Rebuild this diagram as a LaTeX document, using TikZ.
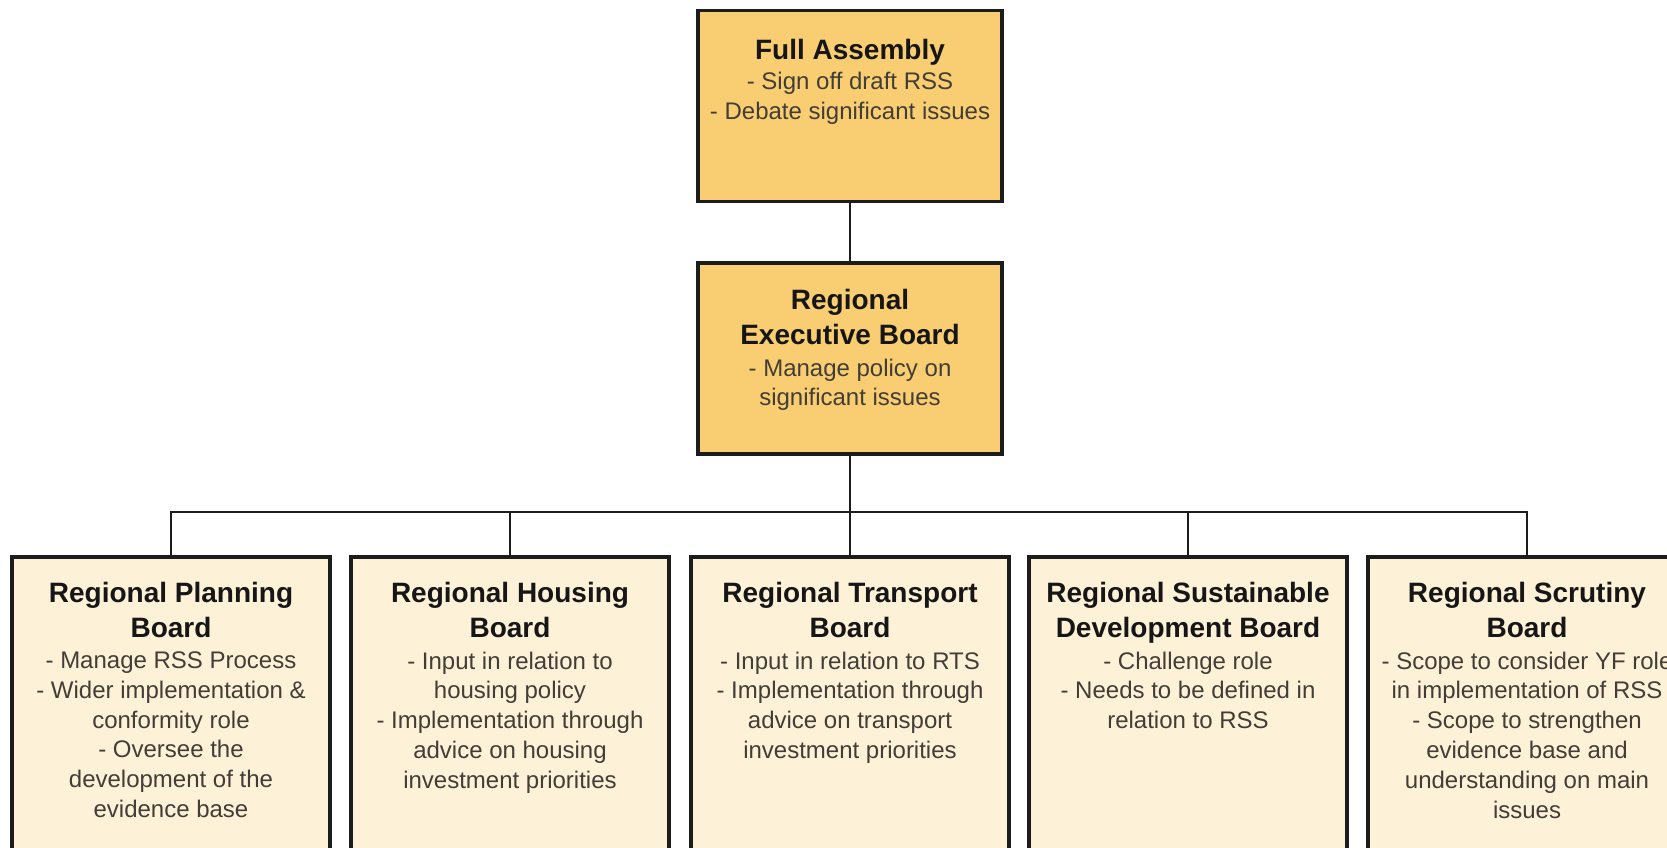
\documentclass[tikz,border=0pt]{standalone}
\usepackage{fontspec}
\setmainfont{Liberation Sans}
\definecolor{execfill}{RGB}{249,206,114}
\definecolor{boardfill}{RGB}{253,241,215}
\definecolor{edgeink}{RGB}{28,28,28}
\definecolor{titleink}{RGB}{22,22,22}
\definecolor{bodyink}{RGB}{66,61,54}

\begin{document}
\begin{tikzpicture}[x=1pt,y=-1pt,
  boxbase/.style={draw=edgeink, line width=3.1pt, inner sep=0pt},
  execbox/.style={boxbase, fill=execfill, minimum width=304pt, minimum height=191pt},
  boardbox/.style={boxbase, fill=boardfill, minimum width=318pt, minimum height=343pt},
  titletext/.style={anchor=north, inner sep=0pt, align=center, text=titleink,
    font=\fontsize{28}{35}\selectfont\bfseries},
  bodytext/.style={anchor=north, inner sep=0pt, align=center, text=bodyink,
    font=\fontsize{24}{29.8}\selectfont},
  link/.style={draw=edgeink, line width=2.9pt}]

\useasboundingbox (0,0) rectangle (1667,847);
\fill[white] (0,0) rectangle (1667,847);
\clip (0,0) rectangle (1667,847);

% upper tier
\node[execbox] (fa) at (850,106) {};
\node[titletext] (fa-t) at ([yshift=-30pt]fa.north) {Full Assembly};
\node[bodytext] (fa-b) at ([yshift=-63pt]fa.north) {- Sign off draft RSS\\- Debate significant issues};

\node[execbox] (reb) at (850,358.5) {};
\node[titletext] (reb-t) at ([yshift=-28pt]reb.north) {Regional\\Executive Board};
\node[bodytext] (reb-b) at ([yshift=-97pt]reb.north) {- Manage policy on\\significant issues};

% boards
\node[boardbox] (rpb) at (171,728.5) {};
\node[boardbox] (rhb) at (510,728.5) {};
\node[boardbox] (rtb) at (850,728.5) {};
\node[boardbox] (rsdb) at (1188,728.5) {};
\node[boardbox] (rscb) at (1527,728.5) {};

\node[titletext] (rpb-t) at ([yshift=-27pt]rpb.north) {Regional Planning\\Board};
\node[bodytext] (rpb-b) at ([yshift=-96pt]rpb.north) {- Manage RSS Process\\- Wider implementation \&\\conformity role\\- Oversee the\\development of the\\evidence base};

\node[titletext] (rhb-t) at ([yshift=-27pt]rhb.north) {Regional Housing\\Board};
\node[bodytext] (rhb-b) at ([yshift=-96pt]rhb.north) {- Input in relation to\\housing policy\\- Implementation through\\advice on housing\\investment priorities};

\node[titletext] (rtb-t) at ([yshift=-27pt]rtb.north) {Regional Transport\\Board};
\node[bodytext] (rtb-b) at ([yshift=-96pt]rtb.north) {- Input in relation to RTS\\- Implementation through\\advice on transport\\investment priorities};

\node[titletext] (rsdb-t) at ([yshift=-27pt]rsdb.north) {Regional Sustainable\\Development Board};
\node[bodytext] (rsdb-b) at ([yshift=-96pt]rsdb.north) {- Challenge role\\- Needs to be defined in\\relation to RSS};

\node[titletext] (rscb-t) at ([yshift=-27pt]rscb.north) {Regional Scrutiny\\Board};
\node[bodytext] (rscb-b) at ([yshift=-96pt]rscb.north) {- Scope to consider YF role\\in implementation of RSS\\- Scope to strengthen\\evidence base and\\understanding on main\\issues};

% connectors
\coordinate (bus) at (850,512);
\draw[link] (fa.south) -- (reb.north);
\draw[link] (reb.south) -- (bus);
\foreach \b in {rpb,rhb,rtb,rsdb,rscb}
  \draw[link] (bus) -| (\b.north);
\end{tikzpicture}
\end{document}
